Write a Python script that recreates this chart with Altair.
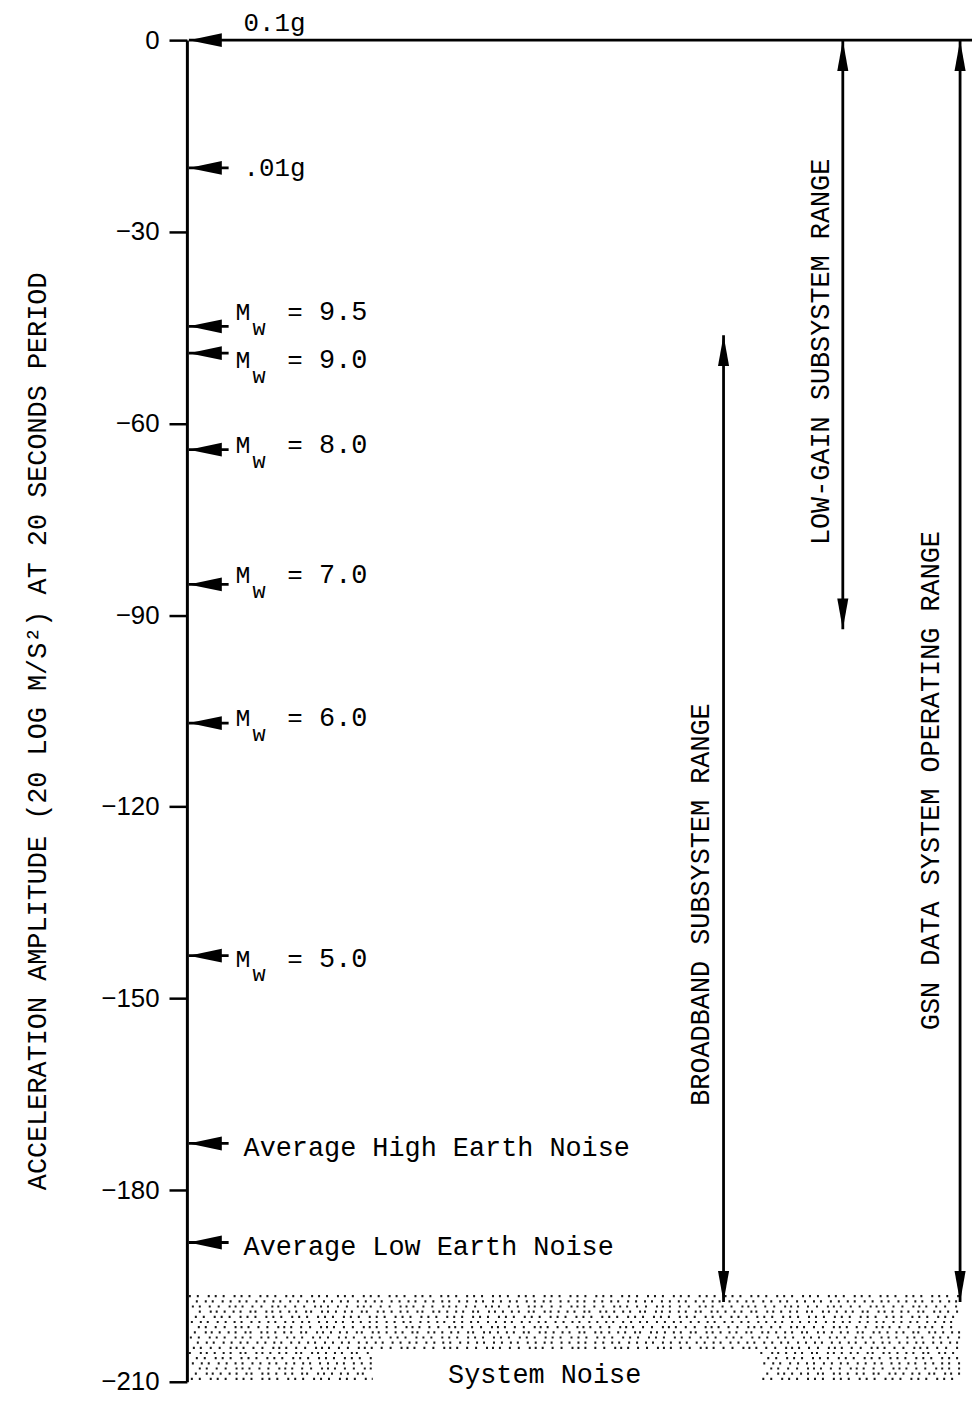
import altair as alt
import pandas as pd

# ---------------- data ----------------
y_ticks = [0, -30, -60, -90, -120, -150, -180, -210]
g_labels = ["0.1g", ".01g"]
g_levels = [0.0, -20.0]
mw_values = ["9.5", "9.0", "8.0", "7.0", "6.0", "5.0"]
mw_levels = [-44.8, -49.0, -64.1, -85.2, -106.9, -143.3]
noise_labels = ["Average High Earth Noise", "Average Low Earth Noise"]
noise_levels = [-172.7, -188.2]
range_names = ["BROADBAND SUBSYSTEM RANGE", "LOW-GAIN SUBSYSTEM RANGE",
               "GSN DATA SYSTEM OPERATING RANGE"]
range_top = [-46.2, 0.0, 0.0]
range_bottom = [-197.5, -92.2, -197.5]
system_noise_top = -196.6
system_noise_notch = -204.7
system_noise_label = "System Noise"
y_title = "ACCELERATION AMPLITUDE (20 LOG M/S²) AT 20 SECONDS PERIOD"

# ---------------- layout (pixels, measured from the axis line) ----------------
W, H = 790, 1350
PX = H / 210.0
ARROW_LEN = 42
TEXT_X = 57
MW_M_X = 49
MW_W_X = 66
MW_EQ_X = 101
MW_NUM_X = 133
mw_nudge_px = [-14, 7, -5, -9, -5, 3]
noise_nudge_px = [5, 5]
range_x = [540, 660, 778]
range_label_x = [517, 638, 749]
range_label_v = [-135.3, -48.8, -115.9]
noise_label_x = 360
noise_label_v = -209.0
STIPPLE_RIGHT = 778
NOTCH_L, NOTCH_R = 187, 577
MONO = "Liberation Mono"

xscale = alt.Scale(domain=[0, W], nice=False, zero=False)
yscale = alt.Scale(domain=[-210, 0], nice=False, zero=False)
yaxis = alt.Axis(
    values=y_ticks, grid=False, title=y_title,
    domainColor="black", domainWidth=3, tickColor="black", tickWidth=2.5, tickSize=18,
    labelFont="Liberation Sans", labelFontSize=26, labelColor="black", labelPadding=10,
    titleFont=MONO, titleFontSize=27, titleFontWeight="normal", titleColor="black",
    titleAngle=270, titleX=-150, titleY=695, titleAlign="center", titleBaseline="middle",
)


def X(f):
    return alt.X(f, type="quantitative", scale=xscale, axis=None)


def Y(f="v"):
    return alt.Y(f, type="quantitative", scale=yscale, axis=yaxis)


# ---------------- left-pointing arrows ----------------
arrow_levels = g_levels + mw_levels + noise_levels
shafts = pd.DataFrame({
    "v": arrow_levels,
    "x": [2] * len(arrow_levels),
    "x2": [W] + [ARROW_LEN] * (len(arrow_levels) - 1),
})
shaft_layer = alt.Chart(shafts).mark_rule(color="black", strokeWidth=2.8).encode(
    x=X("x"), x2=alt.X2("x2"), y=Y())

heads = pd.DataFrame({"v": arrow_levels, "x": [2] * len(arrow_levels)})
head_layer = alt.Chart(heads).mark_point(
    shape="M 0 0 L 2 -0.42 L 2 0.42 Z", size=1100, filled=True,
    color="black", opacity=1, strokeWidth=0).encode(x=X("x"), y=Y())

# ---------------- labels ----------------
g_df = pd.DataFrame({"t": g_labels, "v": g_levels, "x": [TEXT_X] * 2})
g_top = alt.Chart(g_df.iloc[:1]).mark_text(
    font=MONO, fontSize=26, align="left", baseline="alphabetic", dy=-9, color="black"
).encode(x=X("x"), y=Y(), text="t:N")
g_mid = alt.Chart(g_df.iloc[1:]).mark_text(
    font=MONO, fontSize=26, align="left", baseline="middle", color="black"
).encode(x=X("x"), y=Y(), text="t:N")

mw_df = pd.DataFrame({
    "v": [lv - n / PX for lv, n in zip(mw_levels, mw_nudge_px)],
    "m": ["M"] * len(mw_values),
    "w": ["w"] * len(mw_values),
    "eq": ["="] * len(mw_values),
    "num": mw_values,
    "xm": [MW_M_X] * len(mw_values),
    "xw": [MW_W_X] * len(mw_values),
    "xe": [MW_EQ_X] * len(mw_values),
    "xn": [MW_NUM_X] * len(mw_values),
})
mw_m = alt.Chart(mw_df).mark_text(font=MONO, fontSize=25, align="left", baseline="middle",
                                  color="black").encode(x=X("xm"), y=Y(), text="m:N")
mw_w = alt.Chart(mw_df).mark_text(font=MONO, fontSize=22, align="left", baseline="middle",
                                  dy=16, color="black").encode(x=X("xw"), y=Y(), text="w:N")
mw_e = alt.Chart(mw_df).mark_text(font=MONO, fontSize=26, align="left", baseline="middle",
                                  color="black").encode(x=X("xe"), y=Y(), text="eq:N")
mw_n = alt.Chart(mw_df).mark_text(font=MONO, fontSize=27, align="left", baseline="middle",
                                  color="black").encode(x=X("xn"), y=Y(), text="num:N")

noise_df = pd.DataFrame({
    "t": noise_labels,
    "v": [lv - n / PX for lv, n in zip(noise_levels, noise_nudge_px)],
    "x": [TEXT_X] * 2,
})
noise_txt = alt.Chart(noise_df).mark_text(font=MONO, fontSize=27, align="left", baseline="middle",
                                          color="black").encode(x=X("x"), y=Y(), text="t:N")

# ---------------- vertical range arrows ----------------
rng = pd.DataFrame({"name": range_names, "x": range_x, "v": range_top, "v2": range_bottom,
                    "lx": range_label_x, "lv": range_label_v})
rng_shaft = alt.Chart(rng).mark_rule(color="black", strokeWidth=2.8).encode(
    x=X("x"), y=Y(), y2=alt.Y2("v2"))
rng_up = alt.Chart(rng).mark_point(
    shape="M 0 0 L -0.36 2 L 0.36 2 Z", size=960, filled=True, color="black",
    opacity=1, strokeWidth=0).encode(x=X("x"), y=Y())
rng_dn = alt.Chart(rng.rename(columns={"v": "vt", "v2": "v"})).mark_point(
    shape="M 0 0 L -0.36 -2 L 0.36 -2 Z", size=960, filled=True, color="black",
    opacity=1, strokeWidth=0).encode(x=X("x"), y=Y())
rng_lbl = alt.Chart(rng.drop(columns=["v", "v2"]).rename(columns={"lv": "v"})).mark_text(
    font=MONO, fontSize=27, angle=270, align="center", baseline="middle", color="black"
).encode(x=X("lx"), y=Y(), text="name:N")

# ---------------- system noise stipple (texture rows) ----------------
rows = []
step = 5.2 / PX
i = 0
v = system_noise_top
patterns = ["a", "b", "c", "d"]
dash_range = [
    [2, 6, 2, 9, 2, 5],
    [2, 7, 2, 5, 2, 8, 2, 6],
    [2, 5, 2, 8, 2, 7, 2, 9, 2, 4],
    [2, 9, 2, 4, 2, 6, 2, 7, 2, 5, 2, 8, 2, 3],
]
while v > -209.8:
    off = (i * 7) % 11
    pat = patterns[i % 4]
    if v > system_noise_notch:
        rows.append({"v": v, "x": 2 + off, "x2": STIPPLE_RIGHT, "p": pat})
    else:
        rows.append({"v": v, "x": 2 + off, "x2": NOTCH_L, "p": pat})
        rows.append({"v": v, "x": NOTCH_R + off, "x2": STIPPLE_RIGHT, "p": pat})
    i += 1
    v -= step
stipple = alt.Chart(pd.DataFrame(rows)).mark_rule(
    color="black", strokeWidth=2.2, opacity=0.9
).encode(
    x=X("x"), x2=alt.X2("x2"), y=Y(),
    strokeDash=alt.StrokeDash("p:N", scale=alt.Scale(domain=patterns, range=dash_range),
                              legend=None),
)

sn_df = pd.DataFrame({"t": [system_noise_label], "x": [noise_label_x], "v": [noise_label_v]})
sn_txt = alt.Chart(sn_df).mark_text(font=MONO, fontSize=27, align="center", baseline="middle",
                                    color="black").encode(x=X("x"), y=Y(), text="t:N")

chart = alt.layer(
    stipple, shaft_layer, head_layer, g_top, g_mid, mw_m, mw_w, mw_e, mw_n, noise_txt,
    rng_shaft, rng_up, rng_dn, rng_lbl, sn_txt
).properties(
    width=W, height=H,
    autosize=alt.AutoSizeParams(type="none"),
    padding={"left": 180, "top": 28, "right": 0, "bottom": 12},
    background="white",
).configure_view(stroke=None)

chart.save("out.html", embed_options={"renderer": "svg", "actions": False})
